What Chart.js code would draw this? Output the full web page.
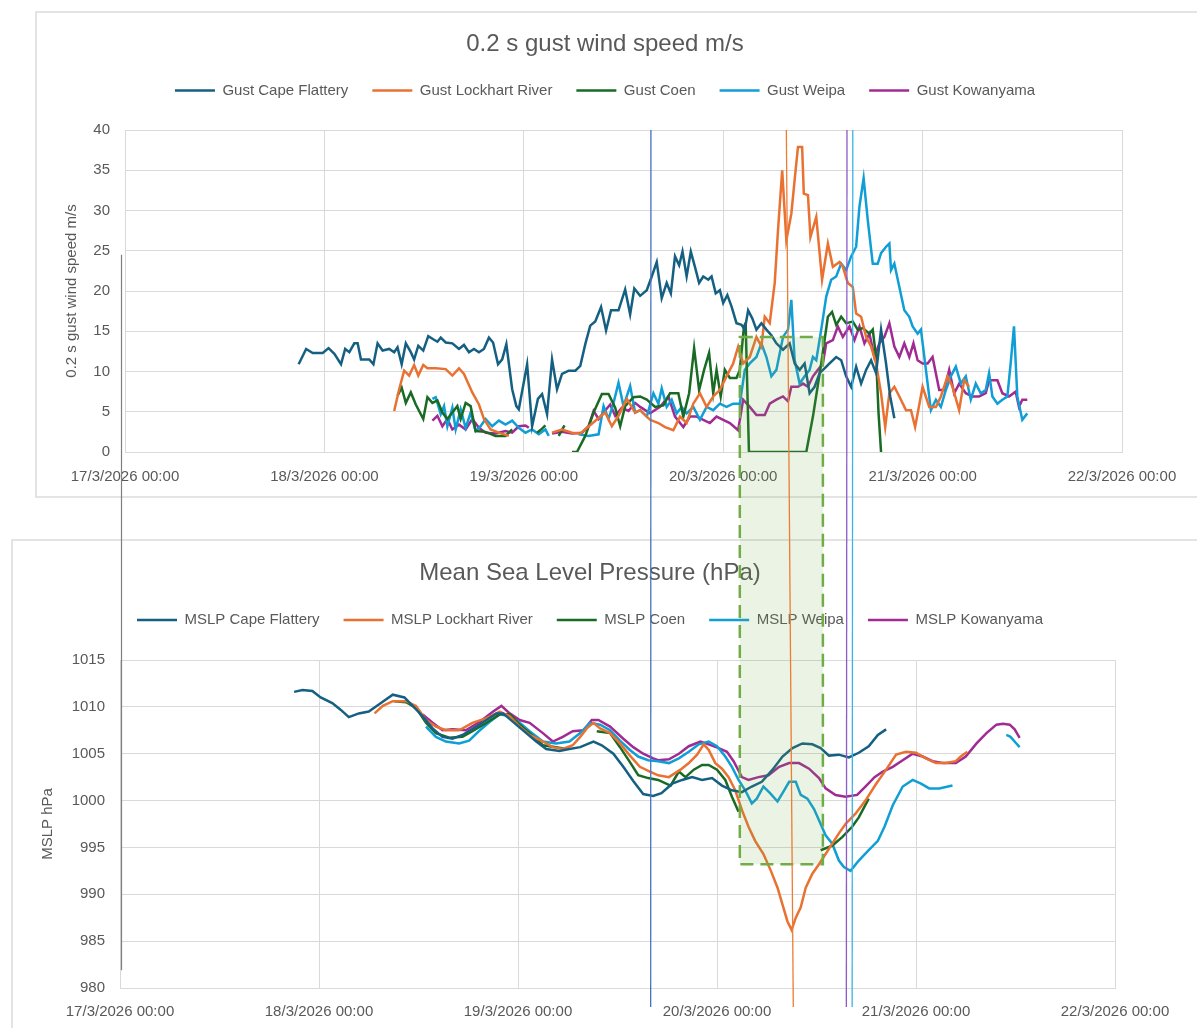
<!DOCTYPE html>
<html>
<head>
<meta charset="utf-8">
<script src="https://cdn.jsdelivr.net/npm/chart.js@4.4.1/dist/chart.umd.min.js"></script>
<style>
body { margin: 0; width: 1197px; height: 1028px; overflow: hidden; background: #fff; position: relative; }
.frame { position: absolute; border: 2px solid #e4e4e4; box-sizing: border-box; }
canvas { position: absolute; }
</style>
</head>
<body>
<div class="frame" style="left:35px;top:11px;width:1200px;height:487px"></div>
<div class="frame" style="left:11px;top:539px;width:1200px;height:520px"></div>
<canvas id="gustChart" width="1161" height="486" style="left:36px;top:12px"></canvas>
<canvas id="mslpChart" width="1185" height="488" style="left:12px;top:540px"></canvas>
<canvas id="overlay" width="1197" height="1028" style="left:0;top:0;pointer-events:none"></canvas>
<script>
// x values are hours after 17/3/2026 00:00
const dayLabels = ['17/3/2026 00:00', '18/3/2026 00:00', '19/3/2026 00:00', '20/3/2026 00:00', '21/3/2026 00:00', '22/3/2026 00:00'];
const stations = ['Cape Flattery', 'Lockhart River', 'Coen', 'Weipa', 'Kowanyama'];
const stationColours = ['#156082', '#e97132', '#196b24', '#0f9ed5', '#a02b93'];

// 0.2 s gust (m/s) - [hour, value], null = missing
const gustCapeFlattery = [[20.9,10.9],[21.8,12.8],[22.6,12.3],[23.8,12.3],[24.5,12.9],[25.2,12.2],[26,10.9],[26.5,12.8],[27,12.4],[27.6,13.5],[28,13.5],[28.4,11.5],[29.4,11.5],[29.9,10.9],[30.4,13.5],[31,12.6],[31.8,12.8],[32.4,12.4],[32.8,13],[33.3,10.9],[33.8,13.5],[34.4,12.4],[34.8,11.5],[35.3,13.2],[35.9,12.6],[36.5,14.4],[37.1,14],[37.6,13.7],[38,14.2],[38.6,13.6],[39.4,13.5],[40.2,12.8],[40.8,13.3],[41.4,12.4],[42,12.8],[42.6,12.4],[43.2,12.8],[43.8,14.2],[44.3,13.6],[44.9,10.9],[45.4,11.5],[45.9,13.4],[46.6,7.8],[47.1,5.7],[47.4,5.3],[48.4,10.9],[49,3.2],[49.7,6.6],[50.2,7.2],[50.8,4.7],[51.4,11.5],[52,7.8],[52.6,9.7],[53.4,10.1],[54.2,10.1],[54.8,10.7],[55.4,13.4],[56,15.7],[56.6,16.2],[57.3,18],[57.9,15.1],[58.5,17.6],[59.4,17.6],[60.2,20.2],[60.8,17.1],[61.3,20.3],[62,19.4],[62.8,20.1],[63.4,21.8],[64,23.6],[64.6,19.1],[65.2,21],[65.7,19.7],[66.2,24.3],[66.7,23.2],[67.1,24.9],[67.6,21.8],[68.1,24.9],[68.6,23],[69.1,21],[69.6,21.8],[70.2,21.4],[70.6,21.8],[71.1,19.7],[71.6,20.1],[72,18.5],[72.5,19.5],[73,18.1],[73.6,16],[74.2,15.8],[74.6,15.2],[75,17.6],[75.5,16.6],[76,15.2],[76.6,16],[77.2,15.2],[77.8,14.5],[78.4,13.5],[79.2,12.7],[80,13.5],[80.6,11],[81.2,10.2],[81.8,11],[82.4,7.3],[83,8.1],[83.6,9.8],[84.2,10.4],[84.8,11],[85.6,11.8],[86.2,11.4],[86.8,9.4],[87.4,8.1],[88,10.6],[88.6,8.5],[89.2,10.2],[89.8,11.4],[90.4,9.8],[91,15.2],[91.6,11],[92.1,6.9],[92.6,4.2]];
const gustLockhartRiver = [[32.4,5.1],[33,7.8],[33.6,10.1],[34.2,9.5],[34.8,10.8],[35.3,9.5],[35.9,10.8],[36.4,10.4],[37.4,10.4],[38.6,10.3],[39.4,9.5],[40.2,10.4],[40.8,9.7],[41.8,7.4],[42.6,5.9],[43.2,4.1],[44,2.8],[45,2.4],[46.2,2],[48,null],[51.4,2.4],[52.6,2.8],[53.8,2.4],[54.8,2.3],[56.4,3.7],[57.8,4.9],[58.6,3.2],[59.4,4.5],[60.4,6.6],[61.4,4.9],[62,5.2],[63.2,4],[64.2,3.6],[65,3.1],[66,2.7],[66.8,4.4],[67.6,3.6],[68.4,6],[69.2,7.3],[70,5.6],[70.8,6.9],[71.6,7.7],[72.4,9.4],[73.2,11],[73.8,13.1],[74.4,11],[75.2,11.8],[76,14.3],[76.6,13.1],[77,16.8],[77.6,16],[78.2,21],[78.6,27.6],[79.1,35],[79.6,26.3],[80.2,29.6],[80.6,33.8],[81,37.9],[81.5,37.9],[81.7,32.1],[82.2,31.9],[82.5,26.7],[83.2,29.2],[83.9,21.4],[84.6,25.9],[85.2,23],[86,23.6],[86.4,23],[87,21],[87.6,20.5],[88,17.2],[88.6,16.8],[89.2,14.3],[89.8,13.1],[90.4,11],[91,7.3],[91.5,3.1],[92,7.3],[92.6,8.1],[93.2,6.9],[94,5.2],[94.6,5.2],[95.1,3.1],[96,8.1],[96.8,5.6],[97.6,5.6],[98.2,6.9],[99,9.4],[99.6,8.1],[100.4,5.2],[101,8.9],[101.6,8.1]];
const gustCoen = [[32.8,7],[33.3,8],[33.8,6.1],[34.4,7.4],[35,5.9],[35.9,4.1],[36.4,6.8],[37,6.1],[37.6,6.4],[38.2,4.9],[38.8,4.1],[39.4,4.9],[40,5.7],[40.4,4.1],[41,6.1],[41.6,5.7],[42.2,2.6],[43.4,2.5],[44.6,2],[45.8,2],[46.6,2.8],[48,null],[49.6,2.4],[50.2,2.9],[50.6,3.3],[51.5,null],[52.2,2],[52.9,3.3],[53.3,null],[53.8,0],[54.4,0],[55.4,2],[56.4,4.9],[57.4,7.2],[58.2,7.2],[59,5.5],[59.6,3.2],[60.2,5.7],[61.2,6.8],[62,6.9],[62.8,6.5],[63.8,5.6],[64.8,5.8],[65.6,7.3],[66.6,7.3],[67.2,4.4],[67.9,7.3],[68.5,12.9],[69.1,7.7],[69.7,10.2],[70.3,12.3],[70.8,7.3],[71.2,10.2],[71.7,6.9],[72.2,10.2],[72.8,9.2],[73.6,9.2],[74,10.2],[74.5,15.6],[74.7,16],[75.1,0],[82,0],[82.8,4.4],[83.8,11],[84.6,16.8],[85.1,17.4],[85.6,15.8],[86.2,16.8],[86.8,16],[87.6,16.2],[88.2,15.2],[88.8,15.4],[89.6,14.7],[90,15.2],[90.4,11.8],[90.7,4.8],[91,0]];
const gustWeipa = [[37,6.6],[37.4,6.8],[38,4.7],[38.4,5.7],[38.8,3.2],[39.4,5.5],[39.8,2.8],[40.4,5.3],[41,3],[41.6,4.9],[42.2,2.6],[42.8,3.2],[43.4,4.1],[44.2,3.2],[45,3.9],[45.8,3.4],[46.6,3.9],[47.4,3],[48.2,2.4],[49,2.8],[49.8,2.2],[50.6,2.8],[51,2],[52.5,null],[54.6,2.2],[55.8,2],[57,2.2],[57.6,5.7],[58.2,4.1],[58.8,6.1],[59.4,8.6],[60,5.7],[60.8,8.2],[61.4,4.9],[62,5.2],[62.8,4.4],[63.6,7.3],[64.2,6],[64.6,7.9],[65.2,5.6],[65.8,6.5],[66.4,4.8],[67,5.6],[67.6,4.8],[68.4,5.6],[69.2,4],[70,5.6],[70.8,5.2],[71.6,6],[72.4,5.6],[73.2,6],[74,6],[74.6,10.2],[75.2,11],[76,11.8],[76.6,13.5],[77.2,11.8],[77.8,9.4],[78.4,10.2],[79.2,14.3],[79.8,15.2],[80.2,18.9],[80.6,11.4],[81.2,8.5],[81.8,9.4],[82.4,10.2],[82.8,11.8],[83.2,11.4],[83.8,15.2],[84.4,19.3],[85,21.4],[85.6,21.8],[86.2,23.4],[86.8,22.6],[87.4,24.3],[88,25.5],[88.4,30.5],[88.9,34],[89.4,28.8],[90,23.4],[90.6,23.4],[91,24.7],[91.6,25.5],[92,25.9],[92.2,22.6],[92.6,23.4],[93.2,20.5],[93.8,17.6],[94.4,16.8],[94.8,15.6],[95.4,14.7],[95.8,15.2],[96.4,10.2],[97,5.2],[97.6,6.5],[98.2,5.6],[98.8,7.7],[99.4,9.4],[100,10.6],[100.6,8.5],[101.2,9.4],[101.8,6.5],[102.4,8.5],[103,7.3],[103.6,7.7],[104,9.8],[104.4,6.9],[105,6],[105.6,6.5],[106.2,6.9],[106.6,11],[107,15.6],[107.4,6.9],[108,4],[108.6,4.8]];
const gustKowanyama = [[37,3.9],[37.6,4.5],[38.2,3.2],[38.8,4.1],[39.4,2.8],[40.2,3.4],[41,2.8],[41.8,4.1],[42.6,3],[43.4,2.4],[44.6,2.3],[45.8,2.6],[46.6,2.4],[47.4,3.2],[48.2,3.3],[48.6,3],[50,null],[51.4,2.3],[52.6,2.5],[53.8,2.3],[55,2.4],[55.8,3.2],[56.4,5.1],[57,4.1],[57.6,4.9],[58.4,5.9],[59,4.5],[59.8,5.5],[60.6,5.1],[61.4,6.1],[62,5.6],[63.2,4.8],[64.4,5.6],[65.4,6.9],[66.2,4.4],[67.2,3.1],[68,4.4],[68.8,4.4],[69.6,4],[70.4,3.6],[71.2,4.4],[72,4],[72.8,3.6],[73.8,2.7],[74.4,6.5],[75.2,5.6],[76,4.6],[77,4.6],[77.6,6],[78.4,6.5],[79.2,6.9],[79.8,6.3],[80.2,8.1],[81,8.1],[81.6,8.5],[82.2,8.1],[82.8,9.4],[83.4,10.2],[84,11],[84.4,13.5],[85.2,13.9],[85.8,15.6],[86.4,14.3],[87.2,15.6],[87.8,13.9],[88.4,15.6],[89,13.5],[89.6,14.7],[90.2,11.8],[90.8,13.5],[91.4,14.3],[92,16],[92.6,13.1],[93.2,11.8],[93.8,13.5],[94.4,11.8],[94.9,13.5],[95.4,11.4],[96,11],[96.6,11],[97.2,11.8],[98,7.7],[98.6,7.7],[99.2,10.2],[99.8,7.3],[100.4,8.5],[101.2,7.3],[102,6.9],[102.8,6.9],[103.6,7.3],[104,8.9],[105,8.9],[105.6,7.3],[106.4,6.9],[107.2,7.5],[107.6,5.6],[108,6.5],[108.6,6.5]];

// MSLP (hPa) - [hour, value], null = missing
const mslpCapeFlattery = [[21,1011.6],[22,1011.8],[23.2,1011.7],[24.2,1011],[25.6,1010.4],[26.6,1009.7],[27.6,1008.9],[28.8,1009.3],[30,1009.5],[31.3,1010.3],[32.9,1011.3],[34.3,1011],[35.3,1010.1],[36.5,1009],[37.7,1007.7],[38.9,1006.8],[40.1,1006.6],[41.3,1007],[43,1007.9],[44.2,1008.6],[45.4,1009.3],[46.2,1009.3],[47.4,1008.4],[49,1007.2],[50.2,1006.3],[51.4,1005.5],[53,1005.3],[54.2,1005.5],[55.5,1005.7],[57.1,1006.3],[58.1,1005.9],[59.5,1005],[60.7,1003.6],[61.9,1002.1],[63.1,1000.7],[64.3,1000.5],[65.3,1000.8],[66.6,1001.8],[67.8,1002.2],[69,1002.5],[70.2,1002.2],[71.4,1002.4],[72.6,1001.6],[73.8,1001.1],[75,1000.9],[76.2,1001.5],[77.4,1002],[78.7,1003.3],[79.9,1004.7],[81.1,1005.6],[82.3,1006.1],[83.5,1006],[84.5,1005.6],[85.5,1004.8],[86.7,1004.9],[87.9,1004.6],[89.1,1005.1],[90.3,1005.8],[91.4,1007],[92.4,1007.6]];
const mslpLockhartRiver = [[30.7,1009.3],[31.7,1010.1],[32.9,1010.6],[34.5,1010.6],[35.7,1010.1],[36.9,1008.6],[38.1,1007.9],[39.3,1007.5],[40.9,1007.5],[42.5,1008.3],[44.2,1008.8],[45.8,1009.5],[47,1009],[48.2,1007.9],[49.4,1007],[51,1006.3],[52.2,1005.7],[53.4,1005.5],[54.6,1005.9],[55.5,1006.8],[56.3,1007.7],[57.1,1008.3],[57.9,1007.7],[59.1,1007.2],[60.3,1006.1],[61.5,1004.8],[62.7,1003.6],[63.9,1003.1],[64.9,1002.7],[66.2,1002.5],[67.6,1003.3],[68.6,1004],[69.6,1004.9],[70.4,1006],[71,1005.4],[71.8,1004],[72.6,1003.4],[73.4,1002.5],[74.2,1001.1],[75,999],[75.8,997.2],[76.6,995.7],[77.6,994.3],[78.5,992.5],[79.3,990.7],[79.9,988.9],[80.5,987.1],[81,986.2],[81.5,987.5],[82.1,988.6],[82.7,990.7],[83.5,992.2],[84.3,993.2],[85.1,994.3],[85.9,995.4],[86.7,996.5],[87.5,997.5],[88.7,998.6],[89.9,1000],[91.2,1001.8],[92.4,1003.3],[93.6,1004.9],[94.8,1005.2],[96,1005.1],[97.2,1004.5],[98.4,1004],[99.6,1004],[100.8,1004.2],[101.4,1004.7],[102.2,1005.2]];
const mslpCoen = [[33.1,1010.6],[34.5,1010.5],[35.7,1009.9],[36.9,1008.3],[38.1,1007.2],[39.7,1006.7],[41.3,1006.8],[42.5,1007.4],[44.2,1008.3],[45.8,1009.2],[47,1009.2],[48.2,1008.1],[49.4,1007.2],[51,1005.9],[52.6,1005.7],[53.8,1005.5],[55.5,null],[57.5,1007.4],[59.1,1007.2],[60.3,1005.7],[61.5,1004.1],[62.5,1002.7],[63.7,1002.4],[64.9,1002.2],[66.4,1001.6],[67.4,1003.1],[68.2,1002.5],[69.2,1003.3],[70.2,1003.8],[71,1003.8],[72,1003.3],[73,1002.2],[73.8,1000.4],[74.6,998.8],[80,null],[84.5,994.7],[85.9,995.2],[87.1,996.1],[88.3,997.2],[89.1,998.2],[90.3,1000.2]];
const mslpWeipa = [[36.9,1007.9],[38.1,1006.8],[39.3,1006.3],[40.9,1006.1],[42.1,1006.4],[43.4,1007.5],[44.6,1008.4],[45.8,1009.2],[47,1009],[48.2,1008.3],[49.4,1007.4],[51,1006.3],[52.6,1006.1],[54.2,1006.3],[55.5,1007.2],[56.7,1008.3],[57.9,1008.1],[59.1,1007.5],[60.3,1006.4],[61.5,1005.4],[62.5,1004.7],[63.7,1004.3],[64.9,1004.2],[66.2,1004],[67.4,1004.5],[68.6,1005.2],[69.8,1006],[71,1006.3],[72,1005.8],[73,1004.7],[73.8,1003.6],[74.6,1002.2],[75.4,1001.1],[76.2,999.7],[76.8,1000.2],[77.6,1001.5],[78.4,1000.8],[79.3,999.9],[80.1,1001.1],[80.7,1002],[81.5,1002],[82.1,1000.6],[82.9,1000.2],[83.7,999.1],[84.5,997.5],[85.1,996.3],[85.9,995.4],[86.7,993.6],[87.3,992.9],[88.1,992.5],[89.1,993.6],[90.3,994.7],[91.4,995.7],[92.2,997.2],[93.2,999.5],[94.4,1001.5],[95.6,1002.2],[96.6,1001.8],[97.6,1001.3],[98.8,1001.3],[100.4,1001.6],[103,null],[106.9,1007],[107.4,1006.8],[108,1006.2],[108.5,1005.7]];
const mslpKowanyama = [[36.5,1009.2],[37.7,1008.3],[38.9,1007.5],[40.1,1007.6],[41.7,1007.5],[43.4,1008.4],[45,1009.5],[46,1010.1],[47,1009.3],[48.2,1008.6],[49.4,1008.3],[51,1007.2],[52.2,1006.3],[53.4,1006.8],[54.6,1007.4],[55.9,1007.5],[56.9,1008.6],[57.7,1008.6],[59.1,1007.9],[60.7,1006.6],[61.9,1005.7],[63.1,1005],[64.3,1004.5],[64.9,1004.3],[66.2,1004.4],[67.4,1005],[68.6,1005.8],[70,1006.3],[71,1006],[72.2,1005.6],[73.2,1005.2],[74,1004.2],[75,1002.5],[75.8,1002.2],[77,1002.5],[78.2,1002.7],[79.5,1003.6],[80.7,1004],[81.9,1004],[83.1,1003.4],[84.3,1002.4],[85.1,1001.3],[86.3,1000.6],[87.5,1000.4],[88.9,1000.6],[89.9,1001.5],[91,1002.5],[92,1003.1],[93.2,1003.6],[94.4,1004.3],[95.6,1005],[96.8,1004.7],[98,1004.2],[99.2,1004],[100.8,1004],[102,1004.7],[103.3,1006.1],[104.5,1007.2],[105.7,1008.1],[106.5,1008.2],[107.3,1008.1],[107.9,1007.6],[108.5,1006.7]];

// hand-drawn marks on the screenshot (hours / values on each chart's axes)
const markerLines = [
    { gustHour: 63.3, mslpHour: 64.0, colour: '#4472c4' },
    { gustHour: 79.6, mslpHour: 81.2, colour: '#ed7d31' },
    { gustHour: 86.9, mslpHour: 87.6, colour: '#8e5cc7' },
    { gustHour: 87.6, mslpHour: 88.3, colour: '#3bb3e8' }
];
const eyeBox = { fromHour: 74.0, toHour: 84.0, topGust: 14.3, bottomMslp: 993.2 };

Chart.defaults.font.family = "'Liberation Sans', Arial, sans-serif";
Chart.defaults.color = '#595959';

// adds empty space under the legend row
const legendGap = {
    id: 'legendGap',
    beforeLayout(chart, args, opts) {
        const legend = chart.legend;
        if (!legend || legend._gapPatched) return;
        const fit = legend.fit;
        legend.fit = function () {
            fit.call(this);
            this.height += opts.extra;
        };
        legend._gapPatched = true;
    }
};

function makeChart(id, cfg) {
    const datasets = cfg.series.map((pts, i) => ({
        label: cfg.prefix + stations[i],
        data: pts.map(p => ({ x: p[0], y: p[1] })),
        borderColor: stationColours[i],
        backgroundColor: stationColours[i],
        borderWidth: 2.5,
        pointRadius: 0,
        tension: 0,
        spanGaps: false
    }));
    return new Chart(document.getElementById(id), {
        type: 'line',
        data: { datasets: datasets },
        plugins: [legendGap],
        options: {
            responsive: false,
            animation: false,
            devicePixelRatio: 1,
            layout: { padding: { right: cfg.padRight } },
            plugins: {
                title: {
                    display: true,
                    text: cfg.title,
                    color: '#595959',
                    font: { size: 24, weight: 'normal' },
                    padding: { top: cfg.titleTop, bottom: cfg.titleBottom }
                },
                legend: {
                    labels: {
                        usePointStyle: true,
                        pointStyle: 'line',
                        pointStyleWidth: 40,
                        color: '#595959',
                        font: { size: 15 },
                        padding: 24
                    }
                },
                legendGap: { extra: cfg.legendExtra },
                tooltip: { enabled: false }
            },
            scales: {
                x: {
                    type: 'linear',
                    min: 0,
                    max: 120,
                    ticks: {
                        stepSize: 24,
                        autoSkip: false,
                        maxRotation: 0,
                        padding: cfg.xTickPad,
                        font: { size: 15 },
                        callback: v => dayLabels[v / 24]
                    },
                    grid: { color: '#d9d9d9', drawTicks: false },
                    border: { color: '#d9d9d9' },
                    afterFit: s => { s.height = cfg.xHeight; s.paddingLeft = 0; s.paddingRight = cfg.plotRightGap; }
                },
                y: {
                    min: cfg.yMin,
                    max: cfg.yMax,
                    ticks: { stepSize: 5, padding: 15, font: { size: 15 }, callback: v => String(v) },
                    grid: { color: '#d9d9d9', drawTicks: false },
                    border: { color: '#d9d9d9' },
                    title: { display: true, text: cfg.yTitle, font: { size: 15 }, padding: { top: 27, bottom: 0 } },
                    afterFit: s => { s.width = cfg.yWidth; }
                }
            }
        }
    });
}

const gustChart = makeChart('gustChart', {
    prefix: 'Gust ',
    series: [gustCapeFlattery, gustLockhartRiver, gustCoen, gustWeipa, gustKowanyama],
    title: '0.2 s gust wind speed m/s', titleTop: 18.2, titleBottom: 0.1, legendExtra: 21.9,
    yTitle: '0.2 s gust wind speed m/s', yMin: 0, yMax: 40,
    padRight: 23, plotRightGap: 75, xHeight: 46, xTickPad: 16, yWidth: 89
});

const mslpChart = makeChart('mslpChart', {
    prefix: 'MSLP ',
    series: [mslpCapeFlattery, mslpLockhartRiver, mslpCoen, mslpWeipa, mslpKowanyama],
    title: 'Mean Sea Level Pressure (hPa)', titleTop: 18.6, titleBottom: 1.1, legendExtra: 22.5,
    yTitle: 'MSLP hPa', yMin: 980, yMax: 1015,
    padRight: 29, plotRightGap: 82, xHeight: 40, xTickPad: 15, yWidth: 108
});

// overlay drawn across both charts
const ov = document.getElementById('overlay').getContext('2d');
const gustPos = { x: 36, y: 12 }, mslpPos = { x: 12, y: 540 };
const gX = h => gustPos.x + gustChart.scales.x.getPixelForValue(h);
const gY = v => gustPos.y + gustChart.scales.y.getPixelForValue(v);
const mX = h => mslpPos.x + mslpChart.scales.x.getPixelForValue(h);
const mY = v => mslpPos.y + mslpChart.scales.y.getPixelForValue(v);

const bx1 = gX(eyeBox.fromHour), bx2 = gX(eyeBox.toHour);
const by1 = gY(eyeBox.topGust), by2 = mY(eyeBox.bottomMslp);
ov.fillStyle = 'rgba(112, 173, 71, 0.14)';
ov.fillRect(bx1, by1, bx2 - bx1, by2 - by1);
ov.strokeStyle = '#70ad47';
ov.lineWidth = 2.5;
ov.setLineDash([13, 7]);
ov.strokeRect(bx1, by1, bx2 - bx1, by2 - by1);
ov.setLineDash([]);

const lineTop = gustPos.y + gustChart.chartArea.top;
const lineBottom = mslpPos.y + mslpChart.chartArea.bottom + 19;
markerLines.forEach(m => {
    ov.strokeStyle = m.colour;
    ov.lineWidth = 1.3;
    ov.beginPath();
    ov.moveTo(gX(m.gustHour), lineTop);
    ov.lineTo(mX(m.mslpHour), lineBottom);
    ov.stroke();
});

// thin grey line at the left edge
ov.strokeStyle = '#7f7f7f';
ov.lineWidth = 1.2;
ov.beginPath();
ov.moveTo(mX(0) + 1.5, gY(24.5));
ov.lineTo(mX(0) + 1.5, mY(981.9));
ov.stroke();
</script>
</body>
</html>
